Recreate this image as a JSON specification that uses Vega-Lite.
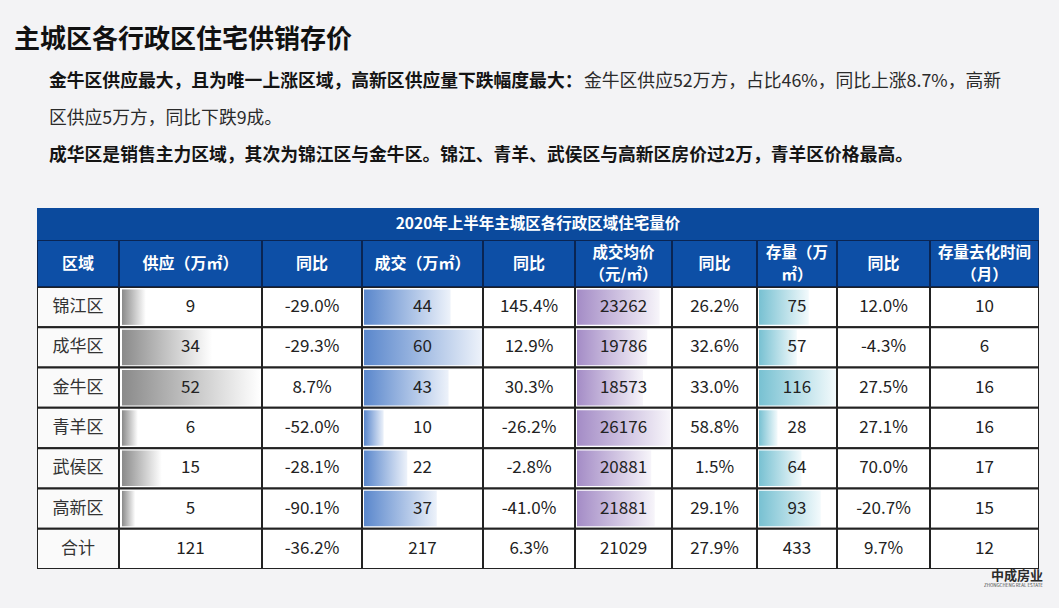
{
  "$schema": "https://vega.github.io/schema/vega-lite/v6.json",
  "background": "#f3f3f5",
  "padding": {"left": 14, "top": 0, "right": 16, "bottom": 0},
  "spacing": 0,
  "config": {
    "view": {"stroke": null},
    "font": "Noto Sans CJK SC",
    "text": {"font": "Noto Sans CJK SC"},
    "concat": {"spacing": 0},
    "locale": {"number": {"decimal": ".", "thousands": ",", "grouping": [3], "currency": ["", ""], "minus": "-"}}
  },
  "datasets": {
    "rows": [
      {"region": "锦江区", "supply": 9, "supplyYoY": -0.290, "deal": 44, "dealYoY": 1.454, "price": 23262, "priceYoY": 0.262, "stock": 75, "stockYoY": 0.120, "months": 10},
      {"region": "成华区", "supply": 34, "supplyYoY": -0.293, "deal": 60, "dealYoY": 0.129, "price": 19786, "priceYoY": 0.326, "stock": 57, "stockYoY": -0.043, "months": 6},
      {"region": "金牛区", "supply": 52, "supplyYoY": 0.087, "deal": 43, "dealYoY": 0.303, "price": 18573, "priceYoY": 0.330, "stock": 116, "stockYoY": 0.275, "months": 16},
      {"region": "青羊区", "supply": 6, "supplyYoY": -0.520, "deal": 10, "dealYoY": -0.262, "price": 26176, "priceYoY": 0.588, "stock": 28, "stockYoY": 0.271, "months": 16},
      {"region": "武侯区", "supply": 15, "supplyYoY": -0.281, "deal": 22, "dealYoY": -0.028, "price": 20881, "priceYoY": 0.015, "stock": 64, "stockYoY": 0.700, "months": 17},
      {"region": "高新区", "supply": 5, "supplyYoY": -0.901, "deal": 37, "dealYoY": -0.410, "price": 21881, "priceYoY": 0.291, "stock": 93, "stockYoY": -0.207, "months": 15},
      {"region": "合计", "supply": 121, "supplyYoY": -0.362, "deal": 217, "dealYoY": 0.063, "price": 21029, "priceYoY": 0.279, "stock": 433, "stockYoY": 0.097, "months": 12}
    ],
    "notes": [
      {"line": 0, "col": 0, "style": "title", "text": "主城区各行政区住宅供销存价"},
      {"line": 1, "col": 0, "style": "bold", "text": "金牛区供应最大，且为唯一上涨区域，高新区供应量下跌幅度最大："},
      {"line": 1, "col": 1, "style": "normal", "text": "金牛区供应52万方，占比46%，同比上涨8.7%，高新"},
      {"line": 2, "col": 0, "style": "normal", "text": "区供应5万方，同比下跌9成。"},
      {"line": 3, "col": 0, "style": "bold", "text": "成华区是销售主力区域，其次为锦江区与金牛区。锦江、青羊、武侯区与高新区房价过2万，青羊区价格最高。"}
    ]
  },
  "vconcat": [
    {
      "width": 1002, "height": 208,
      "data": {"name": "notes"},
      "encoding": {
        "x": {"field": "col", "type": "quantitative", "axis": null, "scale": {"domain": [0, 1], "range": [12, 547]}},
        "y": {"field": "line", "type": "quantitative", "axis": null, "scale": {"domain": [0, 3], "range": [45, 156]}},
        "text": {"field": "text", "type": "nominal"}
      },
      "layer": [
        {"transform": [{"filter": "datum.style === 'title'"}],
         "mark": {"type": "text", "align": "left", "baseline": "middle", "fontSize": 26, "fontWeight": "bold", "color": "#111111", "dx": -35, "dy": -5}},
        {"transform": [{"filter": "datum.style === 'bold'"}],
         "mark": {"type": "text", "align": "left", "baseline": "middle", "fontSize": 17.8, "fontWeight": "bold", "color": "#141414"}},
        {"transform": [{"filter": "datum.style === 'normal'"}],
         "mark": {"type": "text", "align": "left", "baseline": "middle", "fontSize": 17.8, "color": "#2a2a2a"}}
      ]
    },
    {
      "width": 1002, "height": 32,
      "view": {"fill": "#0b4a9d", "stroke": null},
      "data": {"values": [{"t": "2020年上半年主城区各行政区域住宅量价"}]},
      "mark": {"type": "text", "color": "#ffffff", "fontWeight": "bold", "fontSize": 15.5, "baseline": "middle"},
      "encoding": {"text": {"field": "t", "type": "nominal"}}
    },
    {
      "bounds": "flush",
      "spacing": 0,
      "hconcat": [
        {"width": 82, "height": 47, "data": {"values": [{"h": "区域"}]},
         "encoding": {"y": {"field": "h", "type": "nominal", "axis": null, "scale": {"paddingInner": 0, "paddingOuter": 0}}, "text": {"field": "h", "type": "nominal"}},
         "layer": [
           {"mark": {"type": "rect", "fill": "#0d4fa6", "stroke": "#0a2553", "strokeWidth": 2, "clip": true}},
           {"mark": {"type": "text", "color": "#ffffff", "fontWeight": "bold", "fontSize": 16, "baseline": "middle", "lineBreak": "\n", "lineHeight": 22}}
         ]},
        {"width": 143, "height": 47, "data": {"values": [{"h": "供应（万㎡）"}]},
         "encoding": {"y": {"field": "h", "type": "nominal", "axis": null, "scale": {"paddingInner": 0, "paddingOuter": 0}}, "text": {"field": "h", "type": "nominal"}},
         "layer": [
           {"mark": {"type": "rect", "fill": "#0d4fa6", "stroke": "#0a2553", "strokeWidth": 2, "clip": true}},
           {"mark": {"type": "text", "color": "#ffffff", "fontWeight": "bold", "fontSize": 16, "baseline": "middle", "lineBreak": "\n", "lineHeight": 22}}
         ]},
        {"width": 100, "height": 47, "data": {"values": [{"h": "同比"}]},
         "encoding": {"y": {"field": "h", "type": "nominal", "axis": null, "scale": {"paddingInner": 0, "paddingOuter": 0}}, "text": {"field": "h", "type": "nominal"}},
         "layer": [
           {"mark": {"type": "rect", "fill": "#0d4fa6", "stroke": "#0a2553", "strokeWidth": 2, "clip": true}},
           {"mark": {"type": "text", "color": "#ffffff", "fontWeight": "bold", "fontSize": 16, "baseline": "middle", "lineBreak": "\n", "lineHeight": 22}}
         ]},
        {"width": 121, "height": 47, "data": {"values": [{"h": "成交（万㎡）"}]},
         "encoding": {"y": {"field": "h", "type": "nominal", "axis": null, "scale": {"paddingInner": 0, "paddingOuter": 0}}, "text": {"field": "h", "type": "nominal"}},
         "layer": [
           {"mark": {"type": "rect", "fill": "#0d4fa6", "stroke": "#0a2553", "strokeWidth": 2, "clip": true}},
           {"mark": {"type": "text", "color": "#ffffff", "fontWeight": "bold", "fontSize": 16, "baseline": "middle", "lineBreak": "\n", "lineHeight": 22}}
         ]},
        {"width": 92, "height": 47, "data": {"values": [{"h": "同比"}]},
         "encoding": {"y": {"field": "h", "type": "nominal", "axis": null, "scale": {"paddingInner": 0, "paddingOuter": 0}}, "text": {"field": "h", "type": "nominal"}},
         "layer": [
           {"mark": {"type": "rect", "fill": "#0d4fa6", "stroke": "#0a2553", "strokeWidth": 2, "clip": true}},
           {"mark": {"type": "text", "color": "#ffffff", "fontWeight": "bold", "fontSize": 16, "baseline": "middle", "lineBreak": "\n", "lineHeight": 22}}
         ]},
        {"width": 97, "height": 47, "data": {"values": [{"h": "成交均价\n（元/㎡）"}]},
         "encoding": {"y": {"field": "h", "type": "nominal", "axis": null, "scale": {"paddingInner": 0, "paddingOuter": 0}}, "text": {"field": "h", "type": "nominal"}},
         "layer": [
           {"mark": {"type": "rect", "fill": "#0d4fa6", "stroke": "#0a2553", "strokeWidth": 2, "clip": true}},
           {"mark": {"type": "text", "color": "#ffffff", "fontWeight": "bold", "fontSize": 15.5, "baseline": "middle", "lineBreak": "\n", "lineHeight": 22, "dy": -11}}
         ]},
        {"width": 85, "height": 47, "data": {"values": [{"h": "同比"}]},
         "encoding": {"y": {"field": "h", "type": "nominal", "axis": null, "scale": {"paddingInner": 0, "paddingOuter": 0}}, "text": {"field": "h", "type": "nominal"}},
         "layer": [
           {"mark": {"type": "rect", "fill": "#0d4fa6", "stroke": "#0a2553", "strokeWidth": 2, "clip": true}},
           {"mark": {"type": "text", "color": "#ffffff", "fontWeight": "bold", "fontSize": 16, "baseline": "middle", "lineBreak": "\n", "lineHeight": 22}}
         ]},
        {"width": 80, "height": 47, "data": {"values": [{"h": "存量（万\n㎡）"}]},
         "encoding": {"y": {"field": "h", "type": "nominal", "axis": null, "scale": {"paddingInner": 0, "paddingOuter": 0}}, "text": {"field": "h", "type": "nominal"}},
         "layer": [
           {"mark": {"type": "rect", "fill": "#0d4fa6", "stroke": "#0a2553", "strokeWidth": 2, "clip": true}},
           {"mark": {"type": "text", "color": "#ffffff", "fontWeight": "bold", "fontSize": 15.5, "baseline": "middle", "lineBreak": "\n", "lineHeight": 22, "dy": -11}}
         ]},
        {"width": 93, "height": 47, "data": {"values": [{"h": "同比"}]},
         "encoding": {"y": {"field": "h", "type": "nominal", "axis": null, "scale": {"paddingInner": 0, "paddingOuter": 0}}, "text": {"field": "h", "type": "nominal"}},
         "layer": [
           {"mark": {"type": "rect", "fill": "#0d4fa6", "stroke": "#0a2553", "strokeWidth": 2, "clip": true}},
           {"mark": {"type": "text", "color": "#ffffff", "fontWeight": "bold", "fontSize": 16, "baseline": "middle", "lineBreak": "\n", "lineHeight": 22}}
         ]},
        {"width": 109, "height": 47, "data": {"values": [{"h": "存量去化时间\n（月）"}]},
         "encoding": {"y": {"field": "h", "type": "nominal", "axis": null, "scale": {"paddingInner": 0, "paddingOuter": 0}}, "text": {"field": "h", "type": "nominal"}},
         "layer": [
           {"mark": {"type": "rect", "fill": "#0d4fa6", "stroke": "#0a2553", "strokeWidth": 2, "clip": true}},
           {"mark": {"type": "text", "color": "#ffffff", "fontWeight": "bold", "fontSize": 15.5, "baseline": "middle", "lineBreak": "\n", "lineHeight": 22, "dy": -11}}
         ]}
      ]
    },
    {
      "bounds": "flush",
      "spacing": 0,
      "hconcat": [
        {"width": 82, "height": 282, "data": {"name": "rows"},
         "encoding": {"y": {"field": "region", "type": "nominal", "axis": null, "scale": {"domain": ["锦江区", "成华区", "金牛区", "青羊区", "武侯区", "高新区", "合计"], "paddingInner": 0, "paddingOuter": 0}}},
         "layer": [
           {"mark": {"type": "rect", "fill": "#fafafa", "stroke": "#222222", "strokeWidth": 2, "clip": true}},
           {"mark": {"type": "text", "fontSize": 17, "color": "#333333", "baseline": "middle"},
            "encoding": {"text": {"field": "region", "type": "nominal"}}}
         ]},
        {"width": 143, "height": 282, "data": {"name": "rows"},
         "encoding": {"y": {"field": "region", "type": "nominal", "axis": null, "scale": {"domain": ["锦江区", "成华区", "金牛区", "青羊区", "武侯区", "高新区", "合计"], "paddingInner": 0, "paddingOuter": 0}}},
         "layer": [
           {"mark": {"type": "rect", "fill": "#ffffff", "stroke": "#222222", "strokeWidth": 2, "clip": true}},
           {"transform": [{"filter": "datum.region !== '合计'"}],
            "mark": {"type": "bar", "height": {"band": 0.88}, "color": {"gradient": "linear", "x1": 0, "y1": 0, "x2": 1, "y2": 0, "stops": [{"offset": 0, "color": "#8a8a8a"}, {"offset": 1, "color": "#ffffff"}]}},
            "encoding": {"x": {"field": "supply", "type": "quantitative", "axis": null, "scale": {"domain": [0, 52], "range": [3, 141]}}}},
           {"mark": {"type": "text", "fontSize": 17, "color": "#222222", "baseline": "middle"},
            "encoding": {"x": {"value": 71.5}, "text": {"field": "supply", "type": "quantitative", "format": "d"}}}
         ]},
        {"width": 100, "height": 282, "data": {"name": "rows"},
         "encoding": {"y": {"field": "region", "type": "nominal", "axis": null, "scale": {"domain": ["锦江区", "成华区", "金牛区", "青羊区", "武侯区", "高新区", "合计"], "paddingInner": 0, "paddingOuter": 0}}},
         "layer": [
           {"mark": {"type": "rect", "fill": "#ffffff", "stroke": "#222222", "strokeWidth": 2, "clip": true}},
           {"mark": {"type": "text", "fontSize": 17, "color": "#222222", "baseline": "middle"},
            "encoding": {"text": {"field": "supplyYoY", "type": "quantitative", "format": ".1%"}}}
         ]},
        {"width": 121, "height": 282, "data": {"name": "rows"},
         "encoding": {"y": {"field": "region", "type": "nominal", "axis": null, "scale": {"domain": ["锦江区", "成华区", "金牛区", "青羊区", "武侯区", "高新区", "合计"], "paddingInner": 0, "paddingOuter": 0}}},
         "layer": [
           {"mark": {"type": "rect", "fill": "#ffffff", "stroke": "#222222", "strokeWidth": 2, "clip": true}},
           {"transform": [{"filter": "datum.region !== '合计'"}],
            "mark": {"type": "bar", "height": {"band": 0.88}, "color": {"gradient": "linear", "x1": 0, "y1": 0, "x2": 1, "y2": 0, "stops": [{"offset": 0, "color": "#5a87cc"}, {"offset": 1, "color": "#edf2fa"}]}},
            "encoding": {"x": {"field": "deal", "type": "quantitative", "axis": null, "scale": {"domain": [0, 60], "range": [2, 120]}}}},
           {"mark": {"type": "text", "fontSize": 17, "color": "#222222", "baseline": "middle"},
            "encoding": {"x": {"value": 60.5}, "text": {"field": "deal", "type": "quantitative", "format": "d"}}}
         ]},
        {"width": 92, "height": 282, "data": {"name": "rows"},
         "encoding": {"y": {"field": "region", "type": "nominal", "axis": null, "scale": {"domain": ["锦江区", "成华区", "金牛区", "青羊区", "武侯区", "高新区", "合计"], "paddingInner": 0, "paddingOuter": 0}}},
         "layer": [
           {"mark": {"type": "rect", "fill": "#ffffff", "stroke": "#222222", "strokeWidth": 2, "clip": true}},
           {"mark": {"type": "text", "fontSize": 17, "color": "#222222", "baseline": "middle"},
            "encoding": {"text": {"field": "dealYoY", "type": "quantitative", "format": ".1%"}}}
         ]},
        {"width": 97, "height": 282, "data": {"name": "rows"},
         "encoding": {"y": {"field": "region", "type": "nominal", "axis": null, "scale": {"domain": ["锦江区", "成华区", "金牛区", "青羊区", "武侯区", "高新区", "合计"], "paddingInner": 0, "paddingOuter": 0}}},
         "layer": [
           {"mark": {"type": "rect", "fill": "#ffffff", "stroke": "#222222", "strokeWidth": 2, "clip": true}},
           {"transform": [{"filter": "datum.region !== '合计'"}],
            "mark": {"type": "bar", "height": {"band": 0.88}, "color": {"gradient": "linear", "x1": 0, "y1": 0, "x2": 1, "y2": 0, "stops": [{"offset": 0, "color": "#a48cc6"}, {"offset": 1, "color": "#f7f5fa"}]}},
            "encoding": {"x": {"field": "price", "type": "quantitative", "axis": null, "scale": {"domain": [0, 26176], "range": [2, 95]}}}},
           {"mark": {"type": "text", "fontSize": 17, "color": "#222222", "baseline": "middle"},
            "encoding": {"x": {"value": 48.5}, "text": {"field": "price", "type": "quantitative", "format": "d"}}}
         ]},
        {"width": 85, "height": 282, "data": {"name": "rows"},
         "encoding": {"y": {"field": "region", "type": "nominal", "axis": null, "scale": {"domain": ["锦江区", "成华区", "金牛区", "青羊区", "武侯区", "高新区", "合计"], "paddingInner": 0, "paddingOuter": 0}}},
         "layer": [
           {"mark": {"type": "rect", "fill": "#ffffff", "stroke": "#222222", "strokeWidth": 2, "clip": true}},
           {"mark": {"type": "text", "fontSize": 17, "color": "#222222", "baseline": "middle"},
            "encoding": {"text": {"field": "priceYoY", "type": "quantitative", "format": ".1%"}}}
         ]},
        {"width": 80, "height": 282, "data": {"name": "rows"},
         "encoding": {"y": {"field": "region", "type": "nominal", "axis": null, "scale": {"domain": ["锦江区", "成华区", "金牛区", "青羊区", "武侯区", "高新区", "合计"], "paddingInner": 0, "paddingOuter": 0}}},
         "layer": [
           {"mark": {"type": "rect", "fill": "#ffffff", "stroke": "#222222", "strokeWidth": 2, "clip": true}},
           {"transform": [{"filter": "datum.region !== '合计'"}],
            "mark": {"type": "bar", "height": {"band": 0.88}, "color": {"gradient": "linear", "x1": 0, "y1": 0, "x2": 1, "y2": 0, "stops": [{"offset": 0, "color": "#78c1d2"}, {"offset": 1, "color": "#f3fafc"}]}},
            "encoding": {"x": {"field": "stock", "type": "quantitative", "axis": null, "scale": {"domain": [0, 116], "range": [2, 79]}}}},
           {"mark": {"type": "text", "fontSize": 17, "color": "#222222", "baseline": "middle"},
            "encoding": {"x": {"value": 40}, "text": {"field": "stock", "type": "quantitative", "format": "d"}}}
         ]},
        {"width": 93, "height": 282, "data": {"name": "rows"},
         "encoding": {"y": {"field": "region", "type": "nominal", "axis": null, "scale": {"domain": ["锦江区", "成华区", "金牛区", "青羊区", "武侯区", "高新区", "合计"], "paddingInner": 0, "paddingOuter": 0}}},
         "layer": [
           {"mark": {"type": "rect", "fill": "#ffffff", "stroke": "#222222", "strokeWidth": 2, "clip": true}},
           {"mark": {"type": "text", "fontSize": 17, "color": "#222222", "baseline": "middle"},
            "encoding": {"text": {"field": "stockYoY", "type": "quantitative", "format": ".1%"}}}
         ]},
        {"width": 109, "height": 282, "data": {"name": "rows"},
         "encoding": {"y": {"field": "region", "type": "nominal", "axis": null, "scale": {"domain": ["锦江区", "成华区", "金牛区", "青羊区", "武侯区", "高新区", "合计"], "paddingInner": 0, "paddingOuter": 0}}},
         "layer": [
           {"mark": {"type": "rect", "fill": "#ffffff", "stroke": "#222222", "strokeWidth": 2, "clip": true}},
           {"mark": {"type": "text", "fontSize": 17, "color": "#222222", "baseline": "middle"},
            "encoding": {"text": {"field": "months", "type": "quantitative", "format": "d"}}}
         ]}
      ]
    },
    {
      "width": 1002, "height": 39,
      "data": {"values": [{"brand": "中成房业", "sub": "ZHONGCHENG REAL ESTATE"}]},
      "layer": [
        {"mark": {"type": "text", "align": "right", "baseline": "middle", "fontSize": 13, "fontWeight": "bold", "color": "#2b2b2b", "dx": 505, "dy": -12.5},
         "encoding": {"text": {"field": "brand", "type": "nominal"}}},
        {"mark": {"type": "text", "align": "right", "baseline": "middle", "fontSize": 4.5, "color": "#444444", "dx": 505, "dy": -2.5},
         "encoding": {"text": {"field": "sub", "type": "nominal"}}}
      ]
    }
  ]
}
